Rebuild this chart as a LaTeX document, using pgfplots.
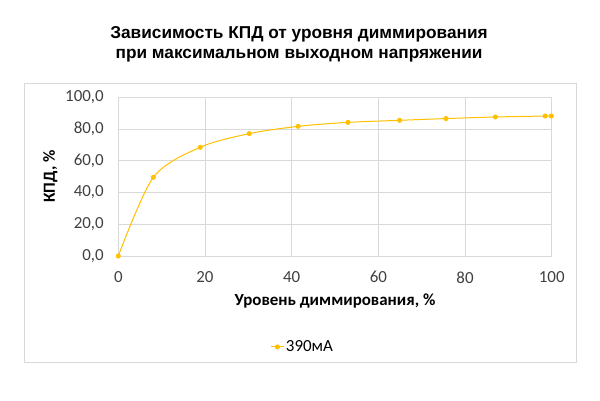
\documentclass[border=0pt]{standalone}
\usepackage{fontspec}
\setmainfont{Carlito}
\newfontfamily\titlefont{Liberation Sans}
\usepackage{pgfplots}
\pgfplotsset{compat=1.18}
\definecolor{gold}{HTML}{FFC000}
\definecolor{gridc}{HTML}{D9D9D9}
\begin{document}
\begin{tikzpicture}[x=1bp,y=1bp]
\path[use as bounding box] (0,0) rectangle (600,400);
\draw[gridc,line width=0.8bp] (24,38) rectangle (576,317);
\node[font=\titlefont\bfseries\fontsize{17.3}{20.5}\selectfont,align=center] at (299,356)
  {Зависимость КПД от уровня диммирования\\при максимальном выходном напряжении};
\begin{axis}[
  scale only axis,
  at={(118.3bp,144bp)}, anchor=south west,
  width=433.4bp, height=158.7bp,
  xmin=0, xmax=100, ymin=0, ymax=100,
  xtick={0,20,...,100}, ytick={0,20,...,100},
  grid=major,
  major grid style={gridc,line width=0.8bp},
  axis line style={gridc,line width=0.8bp},
  tick style={draw=none},
  ticklabel style={font=\fontsize{17}{20}\selectfont, text=black!75},
  /pgf/number format/assume math mode=true,
  yticklabel style={/pgf/number format/use comma, /pgf/number format/fixed, /pgf/number format/fixed zerofill, /pgf/number format/precision=1, xshift=-11bp},
  xticklabel style={yshift=-12bp},
  xlabel={Уровень диммирования, \%},
  ylabel={КПД, \%},
  label style={font=\bfseries\fontsize{17}{20}\selectfont},
  xlabel style={yshift=-4bp},
  ylabel style={yshift=1bp},
  legend style={at={(0.426,-0.573)}, anchor=center, draw=none, fill=none,
    font=\fontsize{17}{20}\selectfont, inner sep=0pt},
  legend image code/.code={\draw[#1, mark repeat=2, mark phase=2] plot coordinates {(0bp,0bp) (6bp,0bp) (12bp,0bp)};},
]
\addplot[gold, line width=1bp, smooth, tension=0.5, mark=*, mark size=2bp, mark options={fill=gold, draw=gold}]
coordinates {
(0,0) (8.1,49.6) (18.9,68.5) (30.2,77.1) (41.5,81.7) (53.0,84.2) (64.9,85.5) (75.6,86.6) (87.0,87.6) (98.5,88.2) (99.9,88.2)
};
\addlegendentry{390мА}
\end{axis}
\end{tikzpicture}
\end{document}
